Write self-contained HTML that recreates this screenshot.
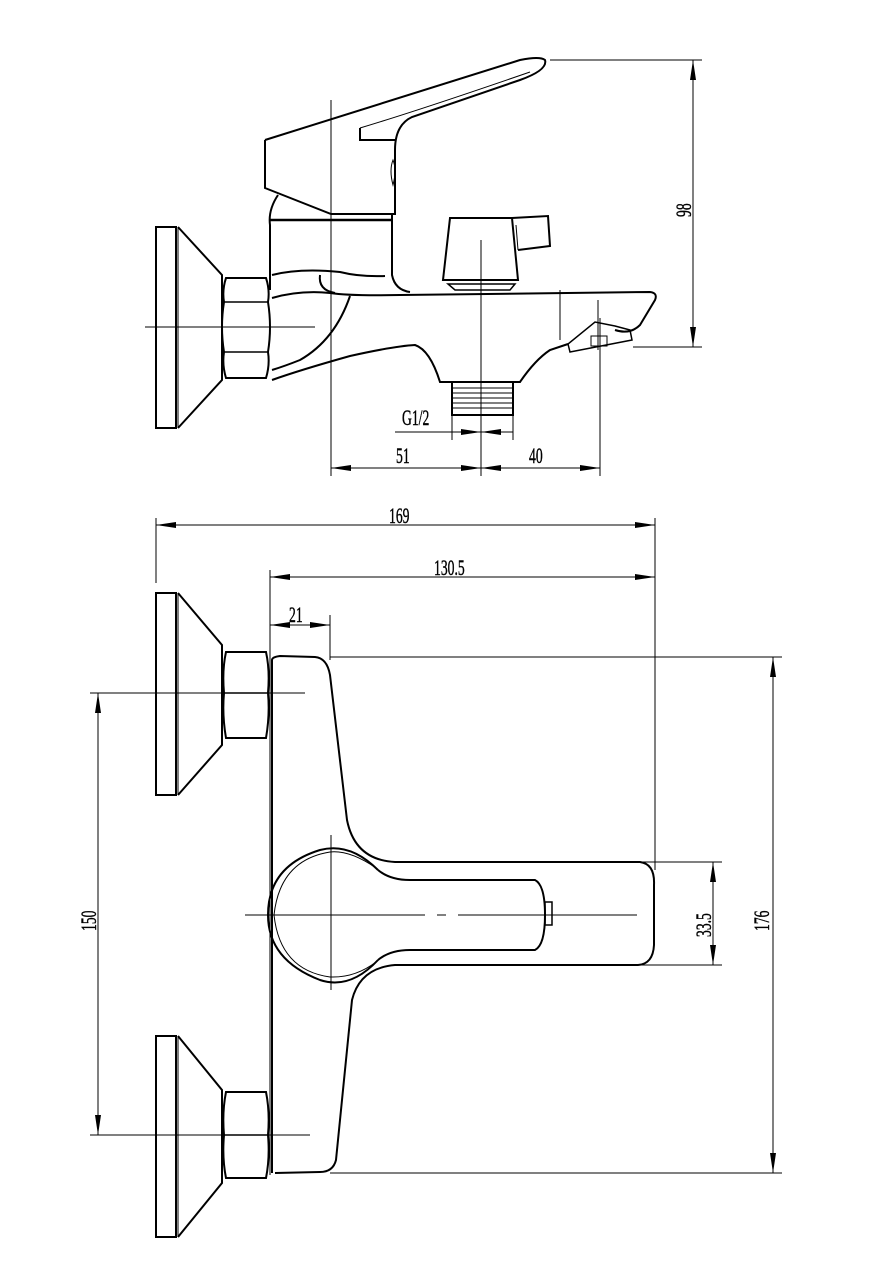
<!DOCTYPE html>
<html><head><meta charset="utf-8"><style>
html,body{margin:0;padding:0;background:#fff}
svg{display:block}
text{font-family:"Liberation Serif",serif;font-size:22px;fill:#000;stroke:#000;stroke-width:0.4}
</style></head><body>
<svg width="875" height="1287" viewBox="0 0 875 1287" xmlns="http://www.w3.org/2000/svg">
<defs>
<marker id="a" viewBox="0 0 20 6" refX="20" refY="3" markerWidth="20" markerHeight="6" markerUnits="userSpaceOnUse" orient="auto-start-reverse"><path d="M0,0 L20,3 L0,6 z" fill="#000"/></marker>
</defs>
<g fill="none" stroke="#000" stroke-width="1">
<line x1="145" y1="327" x2="315" y2="327"/>
<line x1="331" y1="100" x2="331" y2="476"/>
<line x1="481" y1="240" x2="481" y2="476"/>
<line x1="600" y1="318" x2="600" y2="476"/>
<line x1="598" y1="300" x2="598" y2="350"/>
<line x1="560" y1="290" x2="560" y2="340"/>
</g>
<g fill="none" stroke="#000" stroke-width="2">
<rect x="156" y="227" width="20" height="201"/>
<line x1="178" y1="227" x2="178" y2="428" stroke-width="1"/>
<path d="M178,227 L222,275 L222,380 L178,428"/>
<path d="M226,278 L266,278 Q270,290 268,302 Q272,327 268,352 Q270,365 266,378 L226,378 Q222,365 224,352 Q220,327 224,302 Q222,290 226,278 Z"/>
<line x1="224" y1="302" x2="268" y2="302" stroke-width="1.5"/>
<line x1="224" y1="352" x2="268" y2="352" stroke-width="1.5"/>
<path d="M265,140 L265,188 L331,214 L395,214 L395,150 Q395,125 412,117 L520,80 Q548,70 545,60 Q540,56 520,60 L265,140"/>
<path d="M360,128 L360,140 L395,140"/>
<path d="M360,128 Q420,110 530,72" stroke-width="1"/>
<path d="M393,160 Q397,170 393,185 Q389,170 393,160 Z" stroke-width="1"/>
<path d="M278,195 Q268,210 270,225 L270,290"/>
<line x1="270" y1="220" x2="392" y2="220" stroke-width="2.5"/>
<path d="M392,214 L392,275 Q395,290 410,292"/>
<path d="M272,275 Q300,268 340,272 Q360,277 385,276"/>
<path d="M272,298 Q300,290 330,293 Q350,296 400,295 L650,292 Q658,293 655,300 L640,325 Q630,335 615,330"/>
<path d="M272,380 Q300,370 350,356 Q395,346 415,345 Q430,350 440,382 L520,382 Q535,360 550,350 L568,344"/>
<path d="M350,296 Q335,340 300,360 Q285,366 272,370"/>
<path d="M320,275 Q318,290 335,293"/>
<path d="M568,344 L570,352 L632,340 L630,330 L615,326 L595,322 Z" stroke-width="1.5"/>
<rect x="591" y="336" width="16" height="10" stroke-width="1"/>
<path d="M450,218 L512,218 L518,280 L443,280 Z"/>
<path d="M512,218 L548,216 L550,246 L518,250"/>
<path d="M516,225 L518,250" stroke-width="1"/>
<path d="M448,284 L515,284 L510,290 L455,290 Z" stroke-width="1.5"/>
<path d="M452,383 L452,415 L513,415 L513,383"/>
<g stroke-width="1">
<line x1="452" y1="388" x2="513" y2="388"/><line x1="452" y1="393" x2="513" y2="393"/><line x1="452" y1="398" x2="513" y2="398"/><line x1="452" y1="403" x2="513" y2="403"/><line x1="452" y1="408" x2="513" y2="408"/>
</g>
</g>
<g fill="none" stroke="#000" stroke-width="1">
<line x1="550" y1="60" x2="702" y2="60"/>
<line x1="633" y1="347" x2="702" y2="347"/>
<line x1="693" y1="60" x2="693" y2="347" marker-start="url(#a)" marker-end="url(#a)"/>
<line x1="331" y1="468" x2="481" y2="468" marker-start="url(#a)" marker-end="url(#a)"/>
<line x1="481" y1="468" x2="600" y2="468" marker-start="url(#a)" marker-end="url(#a)"/>
<line x1="452" y1="415" x2="452" y2="440"/>
<line x1="513" y1="415" x2="513" y2="440"/>
<line x1="395" y1="432" x2="452" y2="432"/>
<line x1="452" y1="432" x2="481" y2="432" marker-end="url(#a)"/>
<line x1="513" y1="432" x2="481" y2="432" marker-end="url(#a)"/>
<line x1="156" y1="518" x2="156" y2="583"/>
<line x1="655" y1="518" x2="655" y2="870"/>
<line x1="156" y1="525" x2="655" y2="525" marker-start="url(#a)" marker-end="url(#a)"/>
<line x1="270" y1="570" x2="270" y2="1175"/>
<line x1="270" y1="577" x2="655" y2="577" marker-start="url(#a)" marker-end="url(#a)"/>
<line x1="330" y1="615" x2="330" y2="660"/>
<line x1="270" y1="625" x2="330" y2="625" marker-start="url(#a)" marker-end="url(#a)"/>
<line x1="90" y1="693" x2="305" y2="693"/>
<line x1="90" y1="1135" x2="310" y2="1135"/>
<line x1="98" y1="693" x2="98" y2="1135" marker-start="url(#a)" marker-end="url(#a)"/>
<line x1="330" y1="657" x2="782" y2="657"/>
<line x1="330" y1="1173" x2="782" y2="1173"/>
<line x1="773" y1="657" x2="773" y2="1173" marker-start="url(#a)" marker-end="url(#a)"/>
<line x1="640" y1="862" x2="722" y2="862"/>
<line x1="640" y1="965" x2="722" y2="965"/>
<line x1="713" y1="862" x2="713" y2="965" marker-start="url(#a)" marker-end="url(#a)"/>
<line x1="245" y1="915" x2="425" y2="915"/>
<line x1="437" y1="915" x2="446" y2="915"/>
<line x1="458" y1="915" x2="637" y2="915"/>
<line x1="331" y1="835" x2="331" y2="990"/>
</g>
<g fill="none" stroke="#000" stroke-width="2">
<rect x="156" y="593" width="20" height="202"/>
<line x1="178" y1="593" x2="178" y2="795" stroke-width="1"/>
<path d="M178,593 L222,645 L222,745 L178,795"/>
<path d="M226,652 L266,652 Q270,670 268,693 Q270,715 266,738 L226,738 Q222,715 224,693 Q222,670 226,652 Z"/>
<line x1="224" y1="693" x2="268" y2="693" stroke-width="1.5"/>
<rect x="156" y="1036" width="20" height="201"/>
<line x1="178" y1="1036" x2="178" y2="1237" stroke-width="1"/>
<path d="M178,1036 L222,1090 L222,1183 L178,1237"/>
<path d="M226,1092 L266,1092 Q270,1112 268,1135 Q270,1158 266,1178 L226,1178 Q222,1158 224,1135 Q222,1112 226,1092 Z"/>
<line x1="224" y1="1135" x2="268" y2="1135" stroke-width="1.5"/>
<path d="M272,1173 L272,660 Q272,657 280,656 L315,657 Q327,658 330,675 L347,820 Q355,860 395,862 L640,862 Q655,864 654,885 L654,945 Q653,964 638,965 L395,965 Q360,968 352,1000 L336,1160 Q333,1172 320,1172 L275,1173"/>
<path d="M378,870 Q350,842 320,850 Q268,866 268,915 Q268,960 320,980 Q350,990 378,960"/>
<path d="M378,870 Q390,880 410,880 L535,880 Q545,885 545,915 Q545,945 535,950 L410,950 Q390,950 378,960"/>
<path d="M376,868 Q350,850 330,852 Q280,860 274,915" stroke-width="1"/>
<path d="M274,915 Q280,970 330,977 Q355,978 376,962" stroke-width="1"/>
<rect x="545" y="902" width="7" height="23" stroke-width="1.5"/>
</g>
<g>
<text transform="translate(691,217) rotate(-90) scale(0.62,1)">98</text>
<text transform="translate(396,463) scale(0.62,1)">51</text>
<text transform="translate(529,463) scale(0.62,1)">40</text>
<text transform="translate(402,425) scale(0.62,1)">G1/2</text>
<text transform="translate(389,523) scale(0.62,1)">169</text>
<text transform="translate(434,575) scale(0.62,1)">130.5</text>
<text transform="translate(289,622) scale(0.62,1)">21</text>
<text transform="translate(96,931) rotate(-90) scale(0.62,1)">150</text>
<text transform="translate(711,937) rotate(-90) scale(0.62,1)">33.5</text>
<text transform="translate(769,931) rotate(-90) scale(0.62,1)">176</text>
</g>
</svg>
</body></html>
